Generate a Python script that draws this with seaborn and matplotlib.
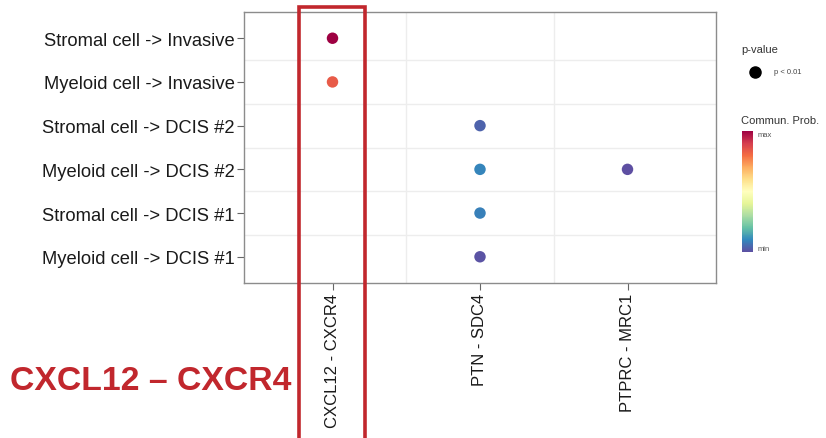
import matplotlib
matplotlib.use("Agg")
import matplotlib.pyplot as plt
import matplotlib.patches as mpatches
from matplotlib.lines import Line2D
from matplotlib.ticker import FixedLocator
import seaborn as sns
import pandas as pd

# Ligand-receptor communication between source -> target cell groups
sources = [
    "Stromal cell -> Invasive",
    "Myeloid cell -> Invasive",
    "Stromal cell -> DCIS #2",
    "Myeloid cell -> DCIS #2",
    "Myeloid cell -> DCIS #2",
    "Stromal cell -> DCIS #1",
    "Myeloid cell -> DCIS #1",
]
pairs = [
    "CXCL12 - CXCR4",
    "CXCL12 - CXCR4",
    "PTN - SDC4",
    "PTN - SDC4",
    "PTPRC - MRC1",
    "PTN - SDC4",
    "PTN - SDC4",
]
prob = [0.210, 0.177, 0.012, 0.024, 0.004, 0.022, 0.006]
pval_label = "p < 0.01"

df = pd.DataFrame({"source": sources, "pair": pairs, "prob": prob})
pmin, pmax = min(prob), max(prob)
cmap = plt.get_cmap("Spectral_r")

plt.rcParams["font.family"] = ["Liberation Sans", "DejaVu Sans"]
fig = plt.figure(figsize=(8.26, 4.39), dpi=100)
ax = fig.add_axes([244 / 826, 1 - 284 / 439, 472 / 826, 271 / 439])

sns.scatterplot(data=df, x="pair", y="source", hue="prob", palette=cmap,
                hue_norm=(pmin, pmax), s=68, linewidth=0, legend=False, ax=ax)

ax.set_xlim(-0.6, 2.6)
ax.set_ylim(5.6, -0.6)
ax.set_xlabel("")
ax.set_ylabel("")

for sp in ax.spines.values():
    sp.set_color("#8c8c8c")
    sp.set_linewidth(1.0)

ax.xaxis.set_minor_locator(FixedLocator([0.5, 1.5]))
ax.yaxis.set_minor_locator(FixedLocator([0.5, 1.5, 2.5, 3.5, 4.5]))
ax.grid(False)
ax.grid(which="minor", color="#ededed", linewidth=1.0)
ax.set_axisbelow(True)
ax.tick_params(which="minor", length=0)
ax.tick_params(which="major", length=5, color="#666666", width=0.8,
               labelcolor="#1a1a1a", pad=2)
ax.tick_params(axis="x", labelsize=12)
ax.tick_params(axis="y", labelsize=13.2, pad=1.5)
plt.setp(ax.get_xticklabels(), rotation=90, va="top", ha="center")

# p-value key
fig.text(741 / 826, 1 - 53 / 439, "p-value", fontsize=8, color="#333333",
         va="baseline", ha="left")
fig.add_artist(Line2D([755 / 826], [1 - 73 / 439], marker="o", linestyle="",
                      color="black", markersize=8, transform=fig.transFigure))
fig.text(774 / 826, 1 - 73 / 439, pval_label, fontsize=5.5, color="#444444",
         va="center", ha="left")

# Communication probability colour bar
cax = fig.add_axes([742 / 826, 1 - 253 / 439, 11 / 826, 121 / 439])
sm = matplotlib.cm.ScalarMappable(norm=plt.Normalize(pmin, pmax), cmap=cmap)
cb = fig.colorbar(sm, cax=cax)
cb.outline.set_visible(False)
cb.set_ticks([pmin, pmax])
cax.tick_params(length=0, labelsize=5.5, labelcolor="#555555", pad=3)
cax.set_yticklabels(["min", "max"])
for lab, va in zip(cax.get_yticklabels(), ["bottom", "top"]):
    lab.set_va(va)
fig.text(741 / 826, 1 - 124 / 439, "Commun. Prob.", fontsize=8,
         color="#333333", va="baseline", ha="left")

# Highlight of the CXCL12 - CXCR4 column
rect = mpatches.Rectangle((299 / 826, -0.02), 66 / 826, 1.02 - 8 / 439,
                          transform=fig.transFigure, fill=False,
                          edgecolor="#c1272d", linewidth=2.6, clip_on=False)
fig.add_artist(rect)
fig.text(10 / 826, 1 - 390 / 439, "CXCL12 \u2013 CXCR4", fontsize=24.3,
         fontweight="bold", color="#c1272d", va="baseline", ha="left")

fig.savefig("out.png", dpi=100)
